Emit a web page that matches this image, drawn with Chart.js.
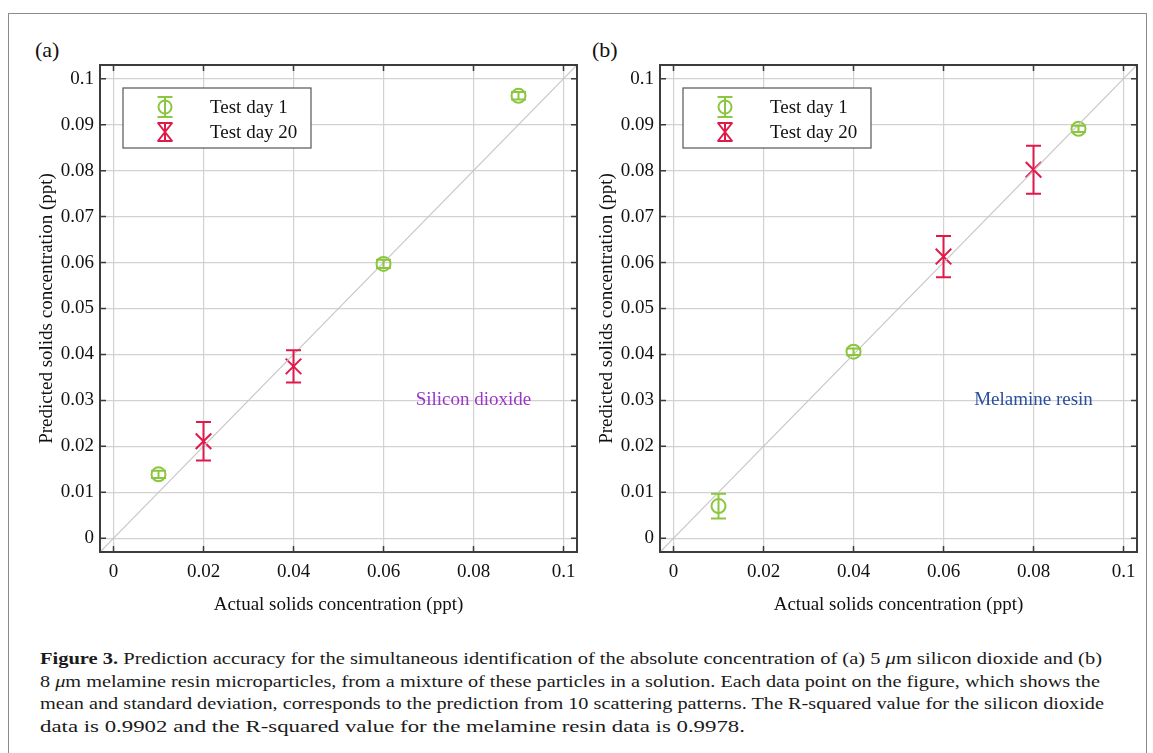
<!DOCTYPE html>
<html>
<head>
<meta charset="utf-8">
<script src="https://cdn.jsdelivr.net/npm/chart.js@4.4.0/dist/chart.umd.min.js"></script>
<style>
body { margin: 0; background: #fff; font-family: "Liberation Serif", serif; }
#page { position: relative; width: 1153px; height: 753px; overflow: hidden; background: #fff; }
#frame { position: absolute; left: 8px; top: 13px; width: 1137px; height: 790px; border: 1.5px solid #8c8c8c; }
canvas { position: absolute; top: 0; }
.panel { position: absolute; top: 37px; font-size: 22px; color: #111; }
#caption { position: absolute; left: 40px; top: 647px; font-size: 17.5px; line-height: 22.6px; color: #1a1a1a; }
#caption div { white-space: nowrap; transform-origin: 0 0; width: max-content; }
</style>
</head>
<body>
<div id="page">
  <div id="frame"></div>
  <div class="panel" style="left:35px">(a)</div>
  <div class="panel" style="left:592px">(b)</div>
  <canvas id="chartA" width="580" height="630" style="left:0px"></canvas>
  <canvas id="chartB" width="580" height="630" style="left:560px"></canvas>
  <div id="caption">
    <div data-w="1062"><b>Figure 3.</b> Prediction accuracy for the simultaneous identification of the absolute concentration of (a) 5 <i>μ</i>m silicon dioxide and (b)</div>
    <div data-w="1060">8 <i>μ</i>m melamine resin microparticles, from a mixture of these particles in a solution. Each data point on the figure, which shows the</div>
    <div data-w="1064">mean and standard deviation, corresponds to the prediction from 10 scattering patterns. The R-squared value for the silicon dioxide</div>
    <div data-w="705">data is 0.9902 and the R-squared value for the melamine resin data is 0.9978.</div>
  </div>
</div>
<script>
const xTicks = [0, 0.02, 0.04, 0.06, 0.08, 0.1];
const xTickLabels = ['0', '0.02', '0.04', '0.06', '0.08', '0.1'];
const yTicks = [0, 0.01, 0.02, 0.03, 0.04, 0.05, 0.06, 0.07, 0.08, 0.09, 0.1];
const yTickLabels = ['0', '0.01', '0.02', '0.03', '0.04', '0.05', '0.06', '0.07', '0.08', '0.09', '0.1'];
const axisMin = -0.003;
const axisMax = 0.103;
const seriesNames = ['Test day 1', 'Test day 20'];

// (a) silicon dioxide
const aDay1X = [0.01, 0.06, 0.09];
const aDay1Y = [0.0139, 0.0597, 0.0963];
const aDay1Err = [0.0008, 0.0009, 0.0008];
const aDay20X = [0.02, 0.04];
const aDay20Y = [0.0211, 0.0374];
const aDay20Err = [0.0042, 0.0035];

// (b) melamine resin
const bDay1X = [0.01, 0.04, 0.09];
const bDay1Y = [0.0070, 0.0406, 0.0891];
const bDay1Err = [0.0027, 0.0007, 0.0007];
const bDay20X = [0.06, 0.08];
const bDay20Y = [0.0613, 0.0802];
const bDay20Err = [0.0045, 0.0052];

const identityX = [axisMin, axisMax];

const green = '#8cc63f';
const red = '#e0194b';
const fontFamily = '"Liberation Serif", "Times New Roman", serif';

function toPoints(xs, ys) {
    return xs.map((x, i) => ({x: x, y: ys[i]}));
}

function drawCircle(ctx, x, y, r, color) {
    ctx.strokeStyle = color;
    ctx.lineWidth = 2;
    ctx.beginPath();
    ctx.arc(x, y, r, 0, Math.PI * 2);
    ctx.stroke();
}

function drawX(ctx, x, y, rx, ry, color) {
    ctx.strokeStyle = color;
    ctx.lineWidth = 2;
    ctx.beginPath();
    ctx.moveTo(x - rx, y - ry);
    ctx.lineTo(x + rx, y + ry);
    ctx.moveTo(x - rx, y + ry);
    ctx.lineTo(x + rx, y - ry);
    ctx.stroke();
}

function drawErrorBar(ctx, x, yTop, yBottom, color) {
    ctx.strokeStyle = color;
    ctx.lineWidth = 2;
    ctx.beginPath();
    ctx.moveTo(x, yTop);
    ctx.lineTo(x, yBottom);
    ctx.moveTo(x - 7.5, yTop);
    ctx.lineTo(x + 7.5, yTop);
    ctx.moveTo(x - 7.5, yBottom);
    ctx.lineTo(x + 7.5, yBottom);
    ctx.stroke();
}

const errorBars = {
    id: 'errorBars',
    afterDatasetsDraw(chart) {
        const ctx = chart.ctx;
        const yScale = chart.scales.y;
        chart.data.datasets.forEach((ds, i) => {
            if (!ds.errors) return;
            const meta = chart.getDatasetMeta(i);
            meta.data.forEach((pt, j) => {
                const v = ds.data[j].y;
                const yTop = yScale.getPixelForValue(v + ds.errors[j]);
                const yBottom = yScale.getPixelForValue(v - ds.errors[j]);
                ctx.save();
                drawErrorBar(ctx, pt.x, yTop, yBottom, ds.borderColor);
                ctx.restore();
            });
        });
    }
};

const frameAndLegend = {
    id: 'frameAndLegend',
    afterDraw(chart, args, opts) {
        const ctx = chart.ctx;
        const area = chart.chartArea;
        const xs = chart.scales.x;
        const ys = chart.scales.y;
        ctx.save();

        // annotation text
        ctx.font = '19px ' + fontFamily;
        ctx.fillStyle = opts.noteColor;
        ctx.textAlign = 'center';
        ctx.textBaseline = 'middle';
        ctx.fillText(opts.note, xs.getPixelForValue(opts.noteX), ys.getPixelForValue(opts.noteY));

        // frame with inward ticks
        ctx.strokeStyle = '#3c3c3c';
        ctx.lineWidth = 2;
        ctx.strokeRect(area.left, area.top, area.right - area.left, area.bottom - area.top);
        ctx.lineWidth = 1.5;
        ctx.beginPath();
        xs.ticks.forEach(t => {
            const px = xs.getPixelForValue(t.value);
            ctx.moveTo(px, area.bottom);
            ctx.lineTo(px, area.bottom - 6);
            ctx.moveTo(px, area.top);
            ctx.lineTo(px, area.top + 6);
        });
        ys.ticks.forEach(t => {
            const py = ys.getPixelForValue(t.value);
            ctx.moveTo(area.left, py);
            ctx.lineTo(area.left + 6, py);
            ctx.moveTo(area.right, py);
            ctx.lineTo(area.right - 6, py);
        });
        ctx.stroke();

        // legend box
        const bx = area.left + 23;
        const by = area.top + 23;
        const bw = 188;
        const bh = 60;
        ctx.fillStyle = '#fff';
        ctx.fillRect(bx, by, bw, bh);
        ctx.strokeStyle = '#555';
        ctx.lineWidth = 1.2;
        ctx.strokeRect(bx, by, bw, bh);
        const items = chart.data.datasets.filter(ds => ds.errors);
        items.forEach((ds, i) => {
            const cy = by + 19 + i * 25;
            const cx = bx + 42;
            if (ds.pointStyle === 'circle') {
                drawCircle(ctx, cx, cy, 6.5, ds.borderColor);
                drawErrorBar(ctx, cx, cy - 10, cy + 10, ds.borderColor);
            } else {
                drawX(ctx, cx, cy, 7, 9, ds.borderColor);
                drawErrorBar(ctx, cx, cy - 9, cy + 9, ds.borderColor);
            }
            ctx.fillStyle = '#111';
            ctx.font = '19px ' + fontFamily;
            ctx.textAlign = 'left';
            ctx.textBaseline = 'middle';
            ctx.fillText(ds.label, bx + 87, cy + 1);
        });
        ctx.restore();
    }
};

function makeChart(id, d1x, d1y, d1e, d20x, d20y, d20e, note, noteColor) {
    const ctx = document.getElementById(id).getContext('2d');
    return new Chart(ctx, {
        type: 'scatter',
        data: {
            datasets: [
                {
                    type: 'line',
                    label: 'y = x',
                    data: toPoints(identityX, identityX),
                    borderColor: '#c6c6c6',
                    borderWidth: 1.2,
                    pointRadius: 0,
                    fill: false,
                },
                {
                    label: seriesNames[0],
                    data: toPoints(d1x, d1y),
                    errors: d1e,
                    pointStyle: 'circle',
                    pointRadius: 7,
                    borderColor: green,
                    backgroundColor: 'rgba(0,0,0,0)',
                    borderWidth: 2,
                },
                {
                    label: seriesNames[1],
                    data: toPoints(d20x, d20y),
                    errors: d20e,
                    pointStyle: 'crossRot',
                    pointRadius: 11,
                    borderColor: red,
                    backgroundColor: red,
                    borderWidth: 2,
                }
            ]
        },
        options: {
            responsive: false,
            animation: false,
            devicePixelRatio: 1,
            layout: {autoPadding: false, padding: {left: 30, top: 65, right: 3, bottom: 0}},
            plugins: {
                legend: {display: false},
                tooltip: {enabled: false},
                frameAndLegend: {note: note, noteColor: noteColor, noteX: 0.08, noteY: 0.03}
            },
            scales: {
                x: {
                    type: 'linear',
                    min: axisMin,
                    max: axisMax,
                    afterBuildTicks: s => { s.ticks = xTicks.map(v => ({value: v})); },
                    afterFit: s => { s.height = 78; s.paddingLeft = 0; s.paddingRight = 0; },
                    grid: {color: '#d2d2d2', lineWidth: 1.2, drawTicks: false},
                    border: {display: false},
                    ticks: {
                        padding: 9,
                        autoSkip: false,
                        maxRotation: 0,
                        color: '#111',
                        font: {family: fontFamily, size: 19},
                        callback: (v, i) => xTickLabels[i]
                    },
                    title: {
                        display: true,
                        text: 'Actual solids concentration (ppt)',
                        color: '#111',
                        font: {family: fontFamily, size: 19},
                        padding: {top: 0, bottom: 14}
                    }
                },
                y: {
                    type: 'linear',
                    min: axisMin,
                    max: axisMax,
                    afterBuildTicks: s => { s.ticks = yTicks.map(v => ({value: v})); },
                    afterFit: s => { s.width = 70; s.paddingTop = 0; s.paddingBottom = 0; },
                    grid: {color: '#d2d2d2', lineWidth: 1.2, drawTicks: false},
                    border: {display: false},
                    ticks: {
                        padding: 6,
                        autoSkip: false,
                        color: '#111',
                        font: {family: fontFamily, size: 19},
                        callback: (v, i) => yTickLabels[i]
                    },
                    title: {
                        display: true,
                        text: 'Predicted solids concentration (ppt)',
                        color: '#111',
                        font: {family: fontFamily, size: 19},
                        padding: {top: 6, bottom: 0}
                    }
                }
            }
        },
        plugins: [errorBars, frameAndLegend]
    });
}

makeChart('chartA', aDay1X, aDay1Y, aDay1Err, aDay20X, aDay20Y, aDay20Err, 'Silicon dioxide', '#9b36c8');
makeChart('chartB', bDay1X, bDay1Y, bDay1Err, bDay20X, bDay20Y, bDay20Err, 'Melamine resin', '#2a4f9c');

// stretch caption lines to the measured widths of the original
document.querySelectorAll('#caption div').forEach(el => {
    const target = +el.dataset.w;
    const w = el.getBoundingClientRect().width;
    if (w > 0) el.style.transform = 'scaleX(' + (target / w).toFixed(4) + ')';
});
</script>
</body>
</html>
